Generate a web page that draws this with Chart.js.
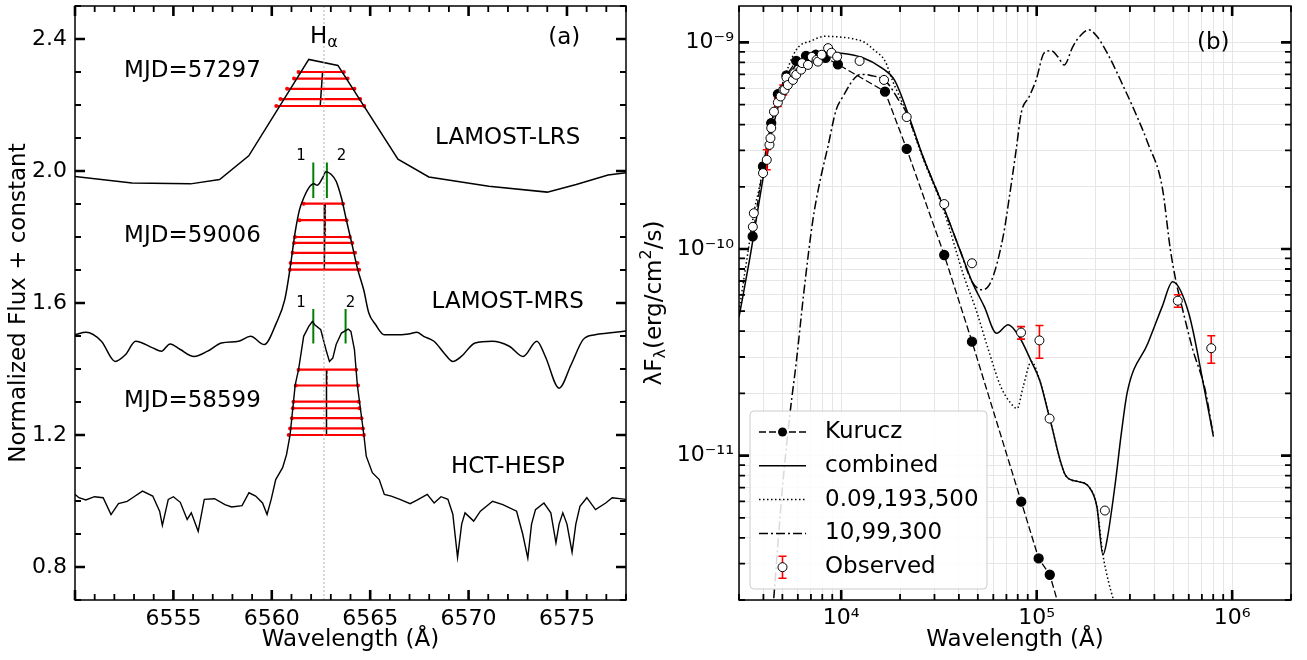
<!DOCTYPE html>
<html>
<head>
<meta charset="utf-8">
<script src="https://cdn.jsdelivr.net/npm/chart.js@4.4.0/dist/chart.umd.min.js"></script>
<style>
  body { margin: 0; background: #fff; }
  canvas { position: absolute; top: 0; }
</style>
</head>
<body>
<canvas id="specChart" width="630" height="660" style="left:0"></canvas>
<canvas id="sedChart" width="677" height="660" style="left:630px"></canvas>
<script>
// ---------- panel (a): H-alpha profiles ----------
const lrsWave = [6550.0, 6552.9, 6555.87, 6557.35, 6558.83, 6561.88, 6563.36, 6566.41, 6567.98, 6571.03, 6574.0, 6575.47, 6577.09, 6578.0];
const lrsFlux = [1.983, 1.964, 1.961, 1.974, 2.046, 2.338, 2.320, 2.036, 1.982, 1.954, 1.936, 1.959, 1.988, 1.995];

const mrsWave = [6550.0, 6550.56, 6551.34, 6552.04, 6552.56, 6553.08, 6553.95, 6554.39, 6554.83, 6555.35, 6556.05, 6556.74, 6557.44, 6558.31, 6558.92, 6559.62, 6560.23, 6560.66, 6560.92, 6561.18, 6561.41, 6561.62, 6561.88, 6562.14, 6562.32, 6562.58, 6562.75, 6563.01, 6563.27, 6563.54, 6563.8, 6564.06, 6564.37, 6564.67, 6564.93, 6565.28, 6565.71, 6566.5, 6567.02, 6567.37, 6567.72, 6568.24, 6568.76, 6569.2, 6569.63, 6570.33, 6571.2, 6572.07, 6572.77, 6573.47, 6573.9, 6574.6, 6575.21, 6575.82, 6576.43, 6577.1, 6578.0];
const mrsFlux = [1.504, 1.511, 1.484, 1.423, 1.443, 1.484, 1.464, 1.454, 1.476, 1.459, 1.438, 1.454, 1.479, 1.484, 1.499, 1.474, 1.539, 1.610, 1.701, 1.812, 1.883, 1.918, 1.949, 1.961, 1.957, 1.979, 1.998, 1.990, 1.969, 1.918, 1.849, 1.782, 1.701, 1.640, 1.570, 1.534, 1.504, 1.504, 1.507, 1.511, 1.499, 1.484, 1.448, 1.423, 1.438, 1.479, 1.484, 1.469, 1.438, 1.484, 1.438, 1.342, 1.413, 1.489, 1.504, 1.509, 1.515];

const hespWave = [6550.0, 6550.2, 6550.55, 6550.99, 6551.43, 6551.83, 6552.21, 6552.65, 6553.0, 6553.43, 6553.95, 6554.3, 6554.44, 6554.74, 6555.0, 6555.35, 6555.7, 6555.91, 6556.26, 6556.57, 6557.09, 6557.62, 6557.96, 6558.49, 6558.84, 6559.18, 6559.53, 6559.76, 6559.97, 6560.2, 6560.55, 6560.75, 6560.93, 6561.19, 6561.36, 6561.62, 6561.88, 6562.06, 6562.18, 6562.49, 6562.75, 6562.93, 6563.1, 6563.27, 6563.54, 6563.88, 6564.02, 6564.2, 6564.35, 6564.68, 6564.8, 6565.11, 6565.46, 6565.72, 6566.07, 6566.51, 6567.03, 6567.38, 6567.9, 6568.25, 6568.6, 6568.95, 6569.2, 6569.44, 6569.65, 6569.82, 6570.26, 6570.6, 6571.22, 6571.74, 6572.44, 6572.75, 6573.01, 6573.2, 6573.4, 6573.83, 6574.18, 6574.44, 6574.6, 6574.79, 6575.0, 6575.26, 6575.45, 6575.66, 6576.01, 6576.45, 6576.97, 6577.3, 6578.0];
const hespFlux = [1.020, 1.010, 1.003, 1.013, 1.010, 0.959, 0.992, 0.999, 1.013, 1.030, 1.015, 0.969, 0.926, 1.005, 1.013, 0.996, 0.944, 0.964, 0.908, 1.005, 1.007, 0.989, 0.982, 0.986, 1.025, 1.015, 0.994, 0.959, 1.005, 1.065, 1.101, 1.141, 1.200, 1.352, 1.398, 1.499, 1.529, 1.544, 1.534, 1.519, 1.459, 1.423, 1.433, 1.474, 1.509, 1.521, 1.514, 1.459, 1.350, 1.200, 1.136, 1.086, 1.065, 1.020, 1.015, 1.005, 0.992, 1.003, 1.020, 0.994, 1.013, 1.005, 0.960, 0.829, 0.930, 0.964, 0.939, 0.969, 0.999, 0.989, 0.969, 0.900, 0.827, 0.930, 0.974, 0.994, 0.964, 0.873, 0.930, 0.964, 0.930, 0.845, 0.930, 0.984, 1.010, 0.974, 0.994, 1.010, 1.005];

// bisector levels (flux) with left / right wing wavelengths
const lrsBarFlux = [2.300, 2.280, 2.249, 2.218, 2.197];
const lrsBarLeft = [6561.36, 6561.13, 6560.78, 6560.44, 6560.23];
const lrsBarRight = [6563.66, 6563.85, 6564.20, 6564.49, 6564.70];
const mrsBarFlux = [1.901, 1.851, 1.800, 1.782, 1.752, 1.721, 1.701];
const mrsBarLeft = [6561.62, 6561.41, 6561.18, 6561.13, 6561.06, 6560.96, 6560.92];
const mrsBarRight = [6563.62, 6563.80, 6563.97, 6564.09, 6564.23, 6564.36, 6564.44];
const hespBarFlux = [1.398, 1.350, 1.301, 1.281, 1.251, 1.220, 1.200];
const hespBarLeft = [6561.36, 6561.22, 6561.10, 6561.07, 6561.02, 6560.93, 6560.86];
const hespBarRight = [6564.29, 6564.38, 6564.42, 6564.45, 6564.56, 6564.63, 6564.68];

// bisector centre lines
const bisTopWave = [6562.58, 6562.70, 6562.78];
const bisBotWave = [6562.46, 6562.67, 6562.78];
const bisTopFlux = [2.300, 1.901, 1.398];
const bisBotFlux = [2.197, 1.701, 1.200];
const bisRedWave = [6562.72, 6562.80];
const bisRedTop = [1.901, 1.398];
const bisRedBot = [1.800, 1.350];

// peak markers 1 / 2
const peakWave = [6562.11, 6562.80, 6562.11, 6563.75];
const peakLow = [1.918, 1.918, 1.477, 1.477];
const peakHigh = [2.026, 2.026, 1.582, 1.582];
const peakLabel = ['1', '2', '1', '2'];
const peakLabelWave = [6561.48, 6563.54, 6561.48, 6564.0];
const peakLabelFlux = [2.046, 2.046, 1.600, 1.600];

const halphaWave = 6562.65;
const specTexts = ['MJD=57297', 'LAMOST-LRS', 'MJD=59006', 'LAMOST-MRS', 'MJD=58599', 'HCT-HESP', '(a)'];
const specTextWave = [6555.97, 6571.99, 6555.97, 6571.99, 6555.97, 6572.0, 6574.86];
const specTextFlux = [2.303, 2.100, 1.804, 1.602, 1.303, 1.104, 2.402];

// ---------- panel (b): SED ----------
const kuruczWave = [3524, 3981, 4385, 4742, 5248, 5888, 6607, 7413, 8318, 9616, 16749, 21627, 33651, 46666, 83368, 102329, 116681, 131826];
const kuruczFlux = [1.15e-10, 2.51e-10, 4.07e-10, 5.62e-10, 6.92e-10, 8.13e-10, 8.61e-10, 8.71e-10, 8.41e-10, 7.83e-10, 5.78e-10, 3.05e-10, 9.35e-11, 3.56e-11, 5.98e-12, 3.18e-12, 2.65e-12, 1.78e-12];

const combWave = [3000, 3396, 4055, 4477, 5129, 5610, 6808, 8241, 10000, 12735, 16181, 18707, 21627, 26182, 33343, 40458, 46666, 53951, 62373, 71450, 81283, 93972, 103514, 116681, 141579, 163305, 184502, 203236, 218273, 229087, 252348, 271019, 291072, 370681, 438531, 495450, 599791, 727780, 801678];
const combFlux = [4.68e-11, 8.85e-11, 2.42e-10, 3.92e-10, 6.11e-10, 7.36e-10, 8.53e-10, 8.93e-10, 8.87e-10, 8.47e-10, 7.50e-10, 6.58e-10, 4.71e-10, 2.80e-10, 1.60e-10, 9.91e-11, 6.95e-11, 5.26e-11, 3.91e-11, 4.30e-11, 3.77e-11, 2.85e-11, 2.32e-11, 1.51e-11, 7.94e-12, 7.48e-12, 7.08e-12, 5.66e-12, 3.31e-12, 3.91e-12, 7.34e-12, 1.28e-11, 2.04e-11, 3.50e-11, 5.26e-11, 6.95e-11, 4.89e-11, 2.00e-11, 1.24e-11];

const warmWave = [3000, 3327, 3600, 3819, 4266, 5012, 5888, 7079, 8241, 10000, 11561, 13183, 14689, 16827, 18197, 21627, 26182, 33343, 42462, 48978, 56624, 65464, 73790, 79433, 85310, 93972, 103514, 116681, 141579, 163305, 184502, 203236, 218273, 234423, 257040];
const warmFlux = [5.0e-11, 9.55e-11, 1.55e-10, 2.0e-10, 3.55e-10, 6.31e-10, 9.20e-10, 1.02e-9, 1.07e-9, 1.06e-9, 1.04e-9, 1.0e-9, 9.20e-10, 8.07e-10, 6.61e-10, 4.54e-10, 2.75e-10, 1.55e-10, 7.36e-11, 5.07e-11, 3.25e-11, 2.16e-11, 1.79e-11, 1.69e-11, 2.16e-11, 2.85e-11, 2.32e-11, 1.51e-11, 7.94e-12, 7.48e-12, 7.08e-12, 5.66e-12, 3.31e-12, 2.40e-12, 1.78e-12];

const coolWave = [4519, 5012, 5495, 5888, 6457, 7161, 7745, 8551, 9419, 10209, 11695, 12589, 14125, 16982, 19634, 21627, 26182, 33343, 40458, 46666, 52723, 58884, 67608, 72444, 78524, 83368, 91622, 99312, 109144, 118577, 128233, 138357, 153109, 169044, 184502, 203236, 234423, 277971, 320627, 370681, 438531, 483059, 514042, 558470, 629506, 727780, 801678];
const coolFlux = [2.04e-12, 7.08e-12, 1.66e-11, 2.82e-11, 6.31e-11, 1.38e-10, 2.08e-10, 3.13e-10, 4.71e-10, 5.47e-10, 6.71e-10, 7.0e-10, 6.92e-10, 6.46e-10, 5.27e-10, 4.54e-10, 2.80e-10, 1.60e-10, 9.91e-11, 6.95e-11, 6.34e-11, 7.08e-11, 1.17e-10, 1.78e-10, 3.02e-10, 4.56e-10, 5.47e-10, 6.58e-10, 8.89e-10, 9.12e-10, 8.53e-10, 7.78e-10, 9.55e-10, 1.09e-9, 1.15e-9, 1.07e-9, 8.55e-10, 6.11e-10, 4.54e-10, 3.25e-10, 2.00e-10, 9.91e-11, 7.10e-11, 5.07e-11, 3.25e-11, 2.08e-11, 1.24e-11];

const obsWave = [3532, 3573, 3981, 4160, 4295, 4345, 4385, 4529, 4742, 4898, 5050, 5129, 5248, 5333, 5662, 5754, 5888, 6237, 6310, 6761, 7079, 7482, 7603, 7943, 8570, 8913, 9528, 12417, 16558, 21627, 33651, 46666, 83176, 103276, 116413, 223357, 527230, 781628];
const obsFlux = [1.28e-10, 1.49e-10, 2.33e-10, 2.70e-10, 3.19e-10, 3.44e-10, 3.85e-10, 4.62e-10, 5.12e-10, 5.47e-10, 5.90e-10, 5.89e-10, 6.76e-10, 6.22e-10, 6.58e-10, 7.08e-10, 6.97e-10, 7.38e-10, 7.94e-10, 7.78e-10, 8.51e-10, 8.22e-10, 8.07e-10, 8.71e-10, 9.38e-10, 8.91e-10, 8.53e-10, 8.13e-10, 6.58e-10, 4.35e-10, 1.65e-10, 8.53e-11, 3.94e-11, 3.61e-11, 1.51e-11, 5.42e-12, 5.62e-11, 3.31e-11];
const obsErrLo = [null, null, null, 2.42e-10, null, null, null, null, 4.90e-10, null, 5.57e-10, null, null, null, null, null, null, null, null, null, null, null, null, null, null, null, null, null, null, null, null, null, 3.66e-11, 2.96e-11, null, null, 5.22e-11, 2.80e-11];
const obsErrHi = [null, null, null, 3.02e-10, null, null, null, null, 5.35e-10, null, 6.22e-10, null, null, null, null, null, null, null, null, null, null, null, null, null, null, null, null, null, null, null, null, null, 4.21e-11, 4.26e-11, null, null, 6.00e-11, 3.80e-11];

const legendLabels = ['Kurucz', 'combined', '0.09,193,500', '10,99,300', 'Observed'];

// ---------- helpers ----------
const FONT = "'DejaVu Sans', sans-serif";
const FS = 23, FS_TICK = 22, FS_SMALL = 16;
Chart.defaults.font.family = FONT;
Chart.defaults.font.size = FS_TICK;
Chart.defaults.color = '#000';

const xy = (xs, ys) => xs.map((x, i) => ({ x: x, y: ys[i] }));
const hSegs = (x0, x1, ys) => ys.flatMap((y, i) => [{ x: x0[i], y: y }, { x: x1[i], y: y }, { x: x1[i], y: null }]);
const vSegs = (xs0, xs1, y0, y1) => xs0.flatMap((x, i) => [{ x: x, y: y0[i] }, { x: xs1[i], y: y1[i] }, { x: xs1[i], y: null }]);

// fixed axis boxes so the plot areas sit where the reference has them
const fixY = w => s => { s.width = w; s.paddingTop = 0; s.paddingBottom = 0; };
const fixX = h => s => { s.height = h; s.paddingLeft = 0; s.paddingRight = 0; };

function drawInwardTicks(chart, xList, yList) {
  const { ctx, chartArea: a, scales } = chart;
  ctx.save();
  ctx.strokeStyle = '#000';
  xList.forEach(t => {
    const p = scales.x.getPixelForValue(t.v);
    if (p < a.left - 1 || p > a.right + 1) return;
    const len = t.major ? 10 : 6;
    ctx.lineWidth = t.major ? 2.6 : 1.8;
    ctx.beginPath();
    ctx.moveTo(p, a.bottom); ctx.lineTo(p, a.bottom - len);
    ctx.moveTo(p, a.top); ctx.lineTo(p, a.top + len);
    ctx.stroke();
  });
  yList.forEach(t => {
    const p = scales.y.getPixelForValue(t.v);
    if (p < a.top - 1 || p > a.bottom + 1) return;
    const len = t.major ? 10 : 6;
    ctx.lineWidth = t.major ? 2.6 : 1.8;
    ctx.beginPath();
    ctx.moveTo(a.left, p); ctx.lineTo(a.left + len, p);
    ctx.moveTo(a.right, p); ctx.lineTo(a.right - len, p);
    ctx.stroke();
  });
  ctx.lineWidth = 1.5;
  ctx.strokeRect(a.left, a.top, a.right - a.left, a.bottom - a.top);
  ctx.restore();
}

// ---------- panel (a) ----------
const specXTicks = [];
for (let v = 6550; v <= 6578; v++) specXTicks.push({ v: v, major: v % 5 === 0 });
const specYTicks = [];
for (let k = 7; k <= 25; k++) specYTicks.push({ v: k / 10, major: k % 4 === 0 });

const specDecor = {
  id: 'specDecor',
  afterDraw(chart) {
    const { ctx, scales: { x, y } } = chart;
    drawInwardTicks(chart, specXTicks, specYTicks);
    ctx.save();
    ctx.fillStyle = '#000';
    ctx.textAlign = 'center';
    ctx.textBaseline = 'middle';
    ctx.font = FS + 'px ' + FONT;
    specTexts.forEach((t, i) => ctx.fillText(t, x.getPixelForValue(specTextWave[i]), y.getPixelForValue(specTextFlux[i])));
    ctx.font = '15px ' + FONT;
    peakLabel.forEach((t, i) => ctx.fillText(t, x.getPixelForValue(peakLabelWave[i]), y.getPixelForValue(peakLabelFlux[i])));
    // H alpha label
    ctx.font = FS + 'px ' + FONT;
    const wH = ctx.measureText('H').width;
    ctx.font = FS_SMALL + 'px ' + FONT;
    const wA = ctx.measureText('\u03b1').width;
    const cx = x.getPixelForValue(halphaWave) - (wH + wA) / 2;
    const cy = y.getPixelForValue(2.406);
    ctx.textAlign = 'left';
    ctx.font = FS + 'px ' + FONT;
    ctx.fillText('H', cx, cy);
    ctx.font = FS_SMALL + 'px ' + FONT;
    ctx.fillText('\u03b1', cx + wH, cy + 6);
    ctx.restore();
  }
};

new Chart(document.getElementById('specChart'), {
  type: 'line',
  data: {
    datasets: [
      { data: [{ x: halphaWave, y: 0.7 }, { x: halphaWave, y: 2.5 }], borderColor: '#b0b0b0', borderWidth: 1, borderDash: [2, 2] },
      { data: xy(lrsWave, lrsFlux), borderColor: '#000', borderWidth: 1.5, tension: 0 },
      { data: xy(mrsWave, mrsFlux), borderColor: '#000', borderWidth: 1.5, cubicInterpolationMode: 'monotone' },
      { data: xy(hespWave, hespFlux), borderColor: '#000', borderWidth: 1.4, tension: 0 },
      { data: hSegs(lrsBarLeft.concat(mrsBarLeft, hespBarLeft), lrsBarRight.concat(mrsBarRight, hespBarRight), lrsBarFlux.concat(mrsBarFlux, hespBarFlux)),
        borderColor: '#ff0000', borderWidth: 2.2, pointRadius: 2, pointBackgroundColor: '#ff0000', pointBorderWidth: 0 },
      { data: vSegs(bisTopWave, bisBotWave, bisTopFlux, bisBotFlux), borderColor: '#000', borderWidth: 1.5 },
      { data: vSegs(bisRedWave, bisRedWave, bisRedTop, bisRedBot), borderColor: '#ff0000', borderWidth: 1.5, borderDash: [4, 2] },
      { data: vSegs(peakWave, peakWave, peakLow, peakHigh), borderColor: '#008000', borderWidth: 2 }
    ]
  },
  options: {
    responsive: false,
    animation: false,
    devicePixelRatio: 1,
    layout: { padding: { top: 6, right: 2, left: 0, bottom: 0 } },
    elements: { point: { radius: 0 }, line: { fill: false } },
    plugins: { legend: { display: false }, tooltip: { enabled: false } },
    scales: {
      x: {
        type: 'linear', min: 6550, max: 6578,
        grid: { display: false, drawTicks: false }, border: { display: false },
        afterBuildTicks: s => { s.ticks = [6555, 6560, 6565, 6570, 6575].map(v => ({ value: v })); },
        ticks: { padding: 6, maxRotation: 0, autoSkip: false, callback: v => String(v) },
        title: { display: true, text: 'Wavelength (\u00c5)', font: { size: FS }, padding: { top: 0, bottom: 6 } },
        afterFit: fixX(60)
      },
      y: {
        type: 'linear', min: 0.7, max: 2.5,
        grid: { display: false, drawTicks: false }, border: { display: false },
        afterBuildTicks: s => { s.ticks = [0.8, 1.2, 1.6, 2.0, 2.4].map(v => ({ value: v })); },
        ticks: { padding: 8, autoSkip: false, callback: v => v.toFixed(1) },
        title: { display: true, text: 'Normalized Flux + constant', font: { size: FS }, padding: { top: 5, bottom: 0 } },
        afterFit: fixY(75)
      }
    }
  },
  plugins: [specDecor]
});

// ---------- panel (b) ----------
const SUP = { '-': '\u207b', '0': '\u2070', '1': '\u00b9', '2': '\u00b2', '3': '\u00b3', '4': '\u2074', '5': '\u2075', '6': '\u2076', '7': '\u2077', '8': '\u2078', '9': '\u2079' };
const powLabel = e => '10' + String(e).split('').map(c => SUP[c]).join('');

function logTicks(min, max, e0, e1) {
  const out = [];
  for (let e = e0; e <= e1; e++) {
    for (let m = 1; m <= 9; m++) {
      const v = m * Math.pow(10, e);
      if (v >= min * 0.999 && v <= max * 1.001) out.push({ v: v, major: m === 1, e: e });
    }
  }
  return out;
}
const sedXTicks = logTicks(3000, 2e6, 3, 6);
const sedYTicks = logTicks(2e-12, 1.5e-9, -12, -9);

function decadeLabel(list, value) {
  const t = list.find(k => Math.abs(k.v - value) / value < 1e-6);
  return t && t.major ? powLabel(t.e) : '';
}

const sedDecor = {
  id: 'sedDecor',
  afterDatasetDraw(chart, args) {
    if (args.index !== 1) return;
    const { ctx, scales: { x, y } } = chart;
    ctx.save();
    ctx.strokeStyle = '#ff0000';
    ctx.lineWidth = 1.6;
    obsWave.forEach((w, i) => {
      if (obsErrLo[i] === null) return;
      const px = x.getPixelForValue(w);
      const p0 = y.getPixelForValue(obsErrLo[i]);
      const p1 = y.getPixelForValue(obsErrHi[i]);
      ctx.beginPath();
      ctx.moveTo(px, p0); ctx.lineTo(px, p1);
      ctx.moveTo(px - 4, p0); ctx.lineTo(px + 4, p0);
      ctx.moveTo(px - 4, p1); ctx.lineTo(px + 4, p1);
      ctx.stroke();
    });
    ctx.restore();
  },
  afterDraw(chart) {
    const { ctx, chartArea: a, scales: { x, y } } = chart;
    drawInwardTicks(chart, sedXTicks, sedYTicks);
    ctx.save();
    ctx.fillStyle = '#000';
    ctx.textBaseline = 'middle';
    ctx.font = FS + 'px ' + FONT;
    ctx.textAlign = 'center';
    ctx.fillText('(b)', x.getPixelForValue(8.0e5), y.getPixelForValue(9.9e-10));

    // rotated y title with sub/superscript
    const parts = [['\u03bbF', FS, 0], ['\u03bb', FS_SMALL, 6], ['(erg/cm', FS, 0], ['2', FS_SMALL, -8], ['/s)', FS, 0]];
    let total = 0;
    parts.forEach(p => { ctx.font = p[1] + 'px ' + FONT; p.push(ctx.measureText(p[0]).width); total += p[3]; });
    ctx.translate(25, (a.top + a.bottom) / 2);
    ctx.rotate(-Math.PI / 2);
    ctx.textAlign = 'left';
    let cx = -total / 2;
    parts.forEach(p => { ctx.font = p[1] + 'px ' + FONT; ctx.fillText(p[0], cx, p[2]); cx += p[3]; });
    ctx.setTransform(1, 0, 0, 1, 0, 0);

    // legend
    const bx = a.left + 11, by = 411, bw = 237, bh = 178;
    ctx.fillStyle = 'rgba(255,255,255,0.85)';
    ctx.strokeStyle = '#cccccc';
    ctx.lineWidth = 1;
    ctx.beginPath();
    ctx.roundRect(bx, by, bw, bh, 4);
    ctx.fill(); ctx.stroke();
    const dashes = [[7, 3], [], [1.5, 2.5], [9, 3, 2, 3], null];
    legendLabels.forEach((lab, i) => {
      const ry = by + 21 + i * 33.8;
      const x0 = bx + 9, x1 = bx + 56, xm = (x0 + x1) / 2;
      ctx.strokeStyle = '#000';
      ctx.lineWidth = 1.5;
      if (dashes[i]) {
        ctx.setLineDash(dashes[i]);
        ctx.beginPath(); ctx.moveTo(x0, ry); ctx.lineTo(x1, ry); ctx.stroke();
        ctx.setLineDash([]);
      }
      if (i === 0) {
        ctx.fillStyle = '#000';
        ctx.beginPath(); ctx.arc(xm, ry, 4.5, 0, Math.PI * 2); ctx.fill();
      }
      if (i === 4) {
        ctx.strokeStyle = '#ff0000'; ctx.lineWidth = 1.6;
        ctx.beginPath();
        ctx.moveTo(xm, ry - 11); ctx.lineTo(xm, ry + 11);
        ctx.moveTo(xm - 4, ry - 11); ctx.lineTo(xm + 4, ry - 11);
        ctx.moveTo(xm - 4, ry + 11); ctx.lineTo(xm + 4, ry + 11);
        ctx.stroke();
        ctx.fillStyle = '#fff'; ctx.strokeStyle = '#000'; ctx.lineWidth = 1;
        ctx.beginPath(); ctx.arc(xm, ry, 4.5, 0, Math.PI * 2); ctx.fill(); ctx.stroke();
      }
      ctx.fillStyle = '#000';
      ctx.font = FS + 'px ' + FONT;
      ctx.textAlign = 'left';
      ctx.fillText(lab, bx + 75, ry);
    });
    ctx.restore();
  }
};

new Chart(document.getElementById('sedChart'), {
  type: 'line',
  data: {
    datasets: [
      { label: 'Observed', data: xy(obsWave, obsFlux), showLine: false, pointRadius: 4.5, pointBackgroundColor: '#fff', pointBorderColor: '#000', pointBorderWidth: 1 },
      { label: 'Kurucz', data: xy(kuruczWave, kuruczFlux), borderColor: '#000', borderWidth: 1.3, borderDash: [7, 3], pointRadius: 4.5, pointBackgroundColor: '#000', pointBorderColor: '#000' },
      { label: 'combined', data: xy(combWave, combFlux), borderColor: '#000', borderWidth: 1.5, cubicInterpolationMode: 'monotone' },
      { label: '0.09,193,500', data: xy(warmWave, warmFlux), borderColor: '#000', borderWidth: 1.5, borderDash: [1.5, 2.5], cubicInterpolationMode: 'monotone' },
      { label: '10,99,300', data: xy(coolWave, coolFlux), borderColor: '#000', borderWidth: 1.5, borderDash: [9, 3, 2, 3], cubicInterpolationMode: 'monotone' }
    ]
  },
  options: {
    responsive: false,
    animation: false,
    devicePixelRatio: 1,
    layout: { padding: { top: 6, right: 16, left: 0, bottom: 0 } },
    elements: { point: { radius: 0 }, line: { fill: false } },
    plugins: { legend: { display: false }, tooltip: { enabled: false } },
    scales: {
      x: {
        type: 'logarithmic', min: 3000, max: 2e6,
        grid: { color: '#e6e6e6', lineWidth: 1, drawTicks: false }, border: { display: false },
        afterBuildTicks: s => { s.ticks = sedXTicks.map(t => ({ value: t.v, major: t.major })); },
        ticks: { padding: 5, maxRotation: 0, autoSkip: false, callback: v => decadeLabel(sedXTicks, v) },
        title: { display: true, text: 'Wavelength (\u00c5)', font: { size: FS }, padding: { top: 0, bottom: 6 } },
        afterFit: fixX(60)
      },
      y: {
        type: 'logarithmic', min: 2e-12, max: 1.5e-9,
        grid: { color: '#e6e6e6', lineWidth: 1, drawTicks: false }, border: { display: false },
        afterBuildTicks: s => { s.ticks = sedYTicks.map(t => ({ value: t.v, major: t.major })); },
        ticks: { padding: 5, autoSkip: false, callback: v => decadeLabel(sedYTicks, v) },
        afterFit: fixY(109)
      }
    }
  },
  plugins: [sedDecor]
});
</script>
</body>
</html>
